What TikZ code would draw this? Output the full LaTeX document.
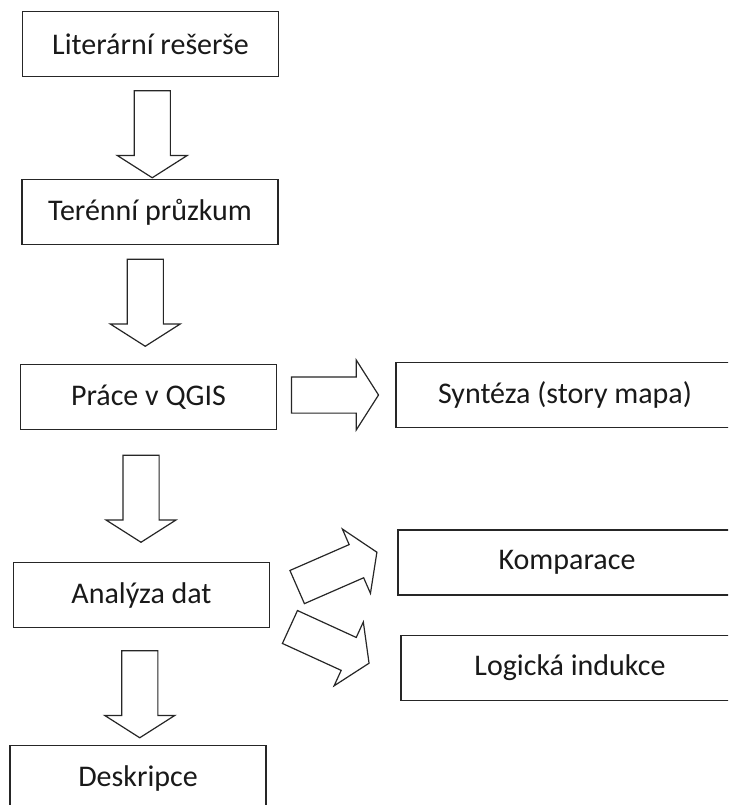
\documentclass[tikz,border=0pt]{standalone}
\usepackage{fontspec}
\setmainfont{Carlito}
\usetikzlibrary{shapes.arrows,calc}

\tikzset{
  box/.style={draw=black!85, line width=1.2pt, minimum width=256pt, minimum height=65pt,
    inner sep=0pt, text=black!90, font=\fontsize{30}{36}\selectfont},
  widebox/.style={box, minimum width=338pt},
  blockarrow/.style={single arrow, draw=black!85, line width=1.2pt, fill=white,
    minimum height=87pt, inner xsep=0pt, inner ysep=17.5pt,
    single arrow head extend=17pt, single arrow tip angle=115},
}

\begin{document}
\begin{tikzpicture}[x=1pt,y=1pt]
\clip (0,0) rectangle (728,-805);
\useasboundingbox (0,0) rectangle (728,-805);

% left column
\node[box] (lit) at (150.5,-44) {Literární rešerše};
\node[box] (ter) at (150,-212) {Terénní průzkum};
\node[box] (qgis) at (148.5,-397) {Práce v QGIS};
\node[box] (ana) at (141.5,-595) {Analýza dat};
\node[box] (desk) at (138,-778) {Deskripce};

% right column
\node[widebox] (syn) at (565,-395) {Syntéza (story mapa)};
\node[widebox] (kom) at (567,-562.5) {Komparace};
\node[widebox] (log) at (570,-668) {Logická indukce};

% block arrows
\node[blockarrow, rotate=-90] (a1) at ($(lit.south)!.5!(ter.north)+(2,-0.5)$) {};
\node[blockarrow, rotate=-90] (a2) at ($(ter.south)!.5!(qgis.north)+(-4,7.5)$) {};
\node[blockarrow, rotate=-90] (a3) at ($(qgis.south)!.5!(ana.north)+(-4,3)$) {};
\node[blockarrow, rotate=-90] (a4) at ($(ana.south)!.5!(desk.north)+(0,-2)$) {};
\node[blockarrow] (a5) at ($(qgis.east)!.5!(syn.west)+(-7,1)$) {};
%branches out of the analysis
\node[blockarrow, rotate=23.6] (a6) at ($(ana.east)!.5!(kom.west)+(-2,6.8)$) {};
\node[blockarrow, rotate=-24.6] (a7) at ($(ana.east)!.5!(log.west)+(-11,-11.2)$) {};
\end{tikzpicture}
\end{document}
